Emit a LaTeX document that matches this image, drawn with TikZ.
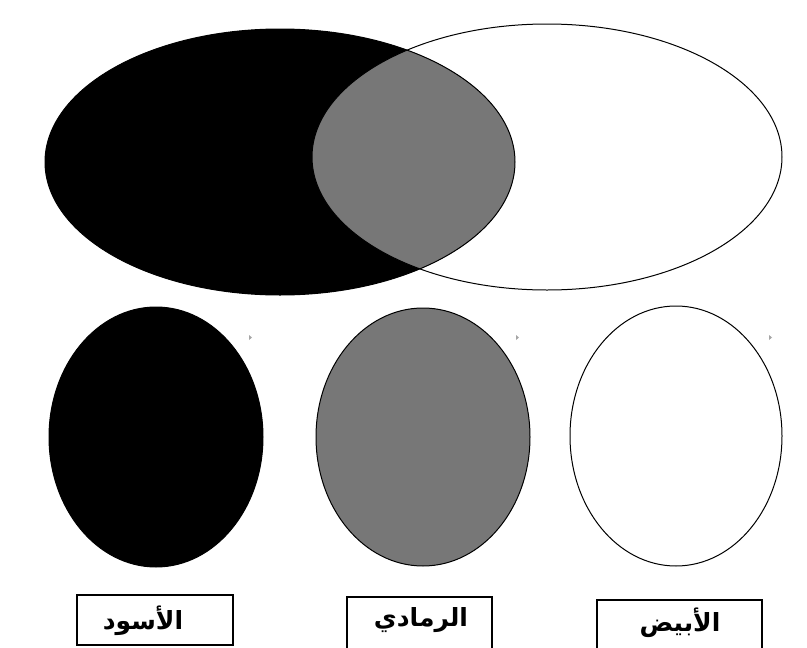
\documentclass[tikz,border=0pt]{standalone}
\usepackage{fontspec}
\TeXXeTstate=1
\newfontfamily\arabicfont[Script=Arabic]{DejaVu Sans}
\definecolor{midgray}{HTML}{777777}
\begin{document}
\begin{tikzpicture}[x=1pt,y=-1pt,
  outl/.style={draw=black,line width=1pt},
  lbl/.style={draw=black,line width=1.2pt,fill=white},
  lbltext/.style={font=\arabicfont\bfseries\fontsize{25}{29}\selectfont},
  marker/.style={fill=gray!70,draw=none}]
\useasboundingbox (0,0) rectangle (807,648);
\clip (0,0) rectangle (807,648);
% top Venn
\fill[black] (280,162) ellipse [x radius=235,y radius=133];
\begin{scope}
  \clip (280,162) ellipse [x radius=235,y radius=133];
  \fill[midgray] (547,157) ellipse [x radius=235,y radius=133];
\end{scope}
\draw[outl] (280,162) ellipse [x radius=235,y radius=133];
\draw[outl] (547,157) ellipse [x radius=235,y radius=133];
% bottom ellipses
\draw[outl,fill=black] (156,437) ellipse [x radius=107,y radius=130];
\draw[outl,fill=midgray] (423,437) ellipse [x radius=107,y radius=129];
\draw[outl,fill=white] (676,436) ellipse [x radius=106,y radius=130];
% small marks
\fill[marker] (249,335) -- (249,340) -- (252,337.5) -- cycle;
\fill[marker] (516,335) -- (516,340) -- (519,337.5) -- cycle;
\fill[marker] (769,335) -- (769,340) -- (772,337.5) -- cycle;
% label boxes
\draw[lbl] (77,595) rectangle (233,645);
\draw[lbl] (347,597) rectangle (492,660);
\draw[lbl] (597,600) rectangle (762,660);
\node[lbltext] (black) at (143,621) {\beginR الأسود\endR};
\node[lbltext] (gray) at (421,620) {\beginR الرمادي\endR};
\node[lbltext] (white) at (680,623) {\beginR الأبيض\endR};
\end{tikzpicture}
\end{document}
